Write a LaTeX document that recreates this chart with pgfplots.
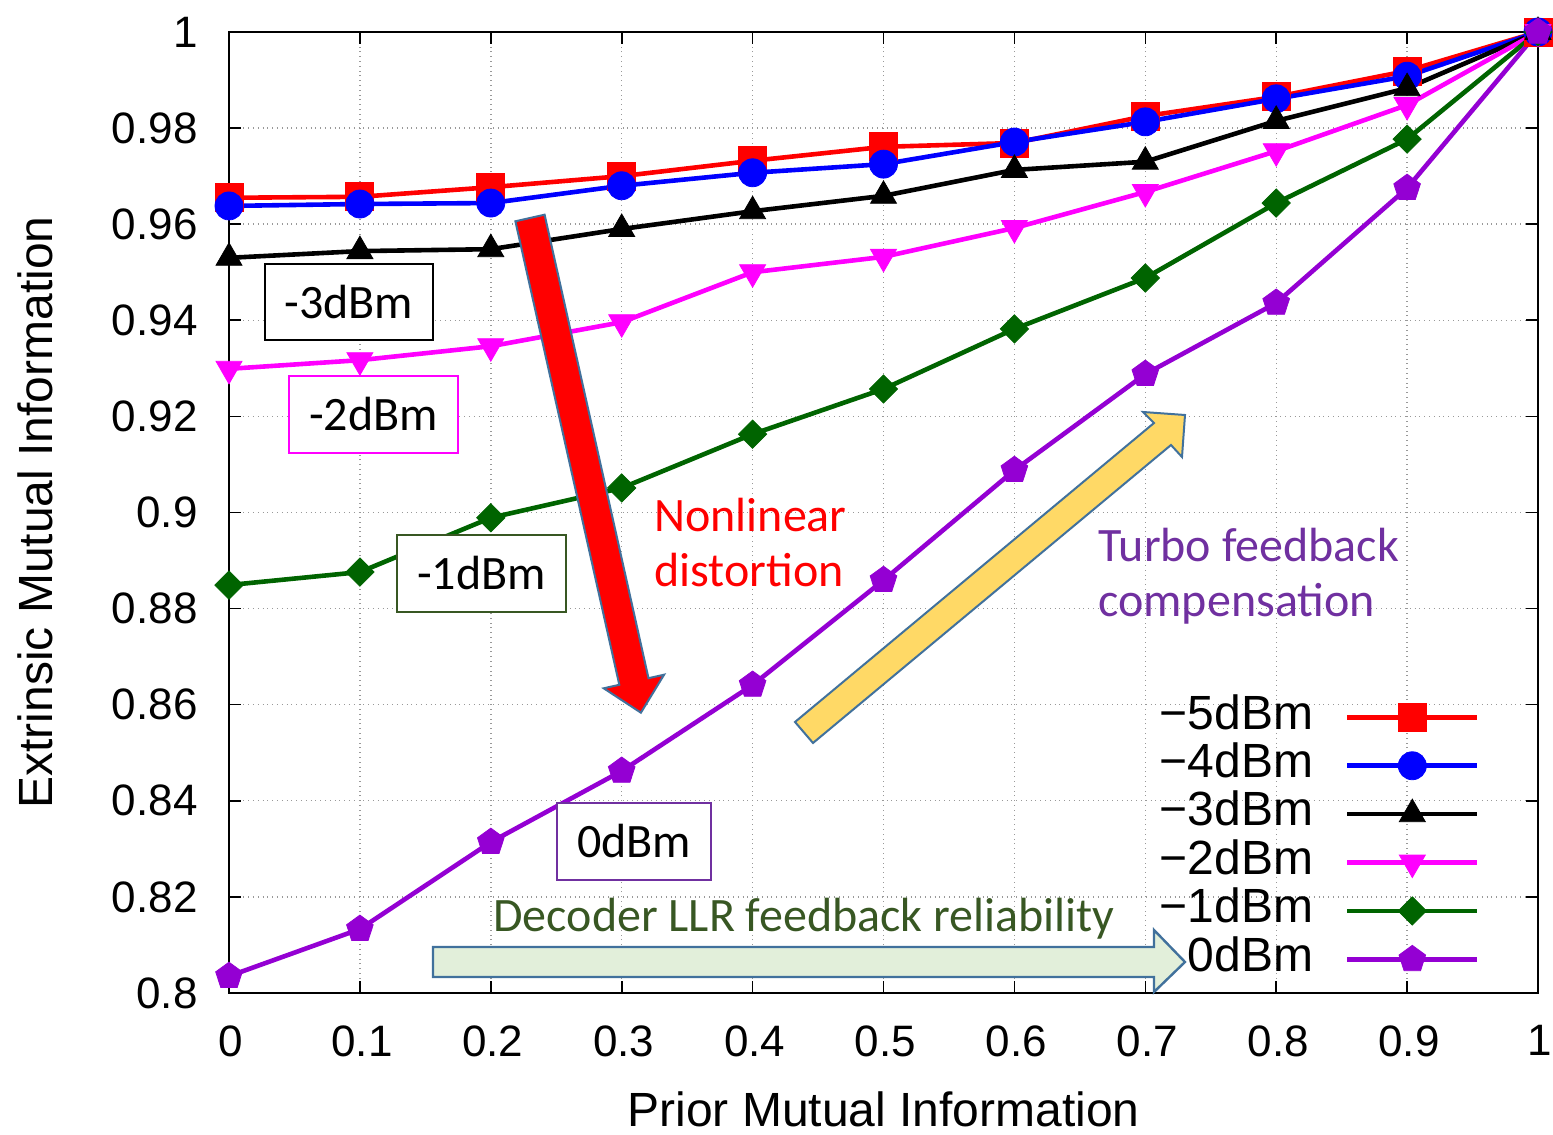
\documentclass[border=0pt]{standalone}
\usepackage{pgfplots}
\pgfplotsset{compat=1.18}
\usepackage{fontspec}
\setmainfont{Liberation Sans}
\newfontfamily\calfont{Carlito}
\usetikzlibrary{plotmarks}
\definecolor{mymagenta}{RGB}{255,0,255}
\definecolor{mygreen}{RGB}{0,100,0}
\definecolor{mypurple}{RGB}{148,0,211}
\definecolor{boxgreen}{RGB}{56,87,35}
\definecolor{boxpurple}{RGB}{112,48,160}
\definecolor{arrowedge}{RGB}{65,113,156}
\definecolor{yellowfill}{RGB}{255,217,102}
\definecolor{greenfill}{RGB}{226,239,218}
\begin{document}
\begin{tikzpicture}
\begin{axis}[
  scale only axis, width=654.5pt, height=480.5pt,
  xmin=0, xmax=1, ymin=0.8, ymax=1,
  xtick={0,0.1,0.2,0.3,0.4,0.5,0.6,0.7,0.8,0.9,1},
  xticklabels={0,0.1,0.2,0.3,0.4,0.5,0.6,0.7,0.8,0.9,1},
  ytick={0.8,0.82,0.84,0.86,0.88,0.9,0.92,0.94,0.96,0.98,1},
  yticklabels={0.8,0.82,0.84,0.86,0.88,0.9,0.92,0.94,0.96,0.98,1},
  tick align=inside, tick pos=both,
  major tick length=6pt,
  tick style={line width=0.8pt, black},
  axis line style={line width=1pt},
  grid=major, grid style={dotted, gray!80, line width=0.7pt},
  /pgf/number format/assume math mode=true,
  ticklabel style={font=\fontsize{22}{22}\selectfont},
  xticklabel style={anchor=north, inner sep=0pt, yshift=-16pt, xshift=1pt},
  yticklabel style={anchor=east, inner sep=0pt, xshift=-15.5pt},
  xlabel={Prior Mutual Information},
  ylabel={Extrinsic Mutual Information},
  xlabel style={font=\fontsize{24}{24}\selectfont, at={(rel axis cs:0.5,-0.1384)}, anchor=base, inner sep=0pt},
  ylabel style={font=\fontsize{24}{24}\selectfont, at={(rel axis cs:-0.1352,0.5)}, anchor=base, inner sep=0pt},
  legend plot pos=right,
  legend cell align=right,
  legend image code/.code={\draw[mark repeat=2,mark phase=2,#1] plot coordinates {(0pt,0pt) (32.5pt,0pt) (65pt,0pt)};},
  legend style={draw=none, fill=none, at={(rel axis cs:0.9557,0.0094)}, anchor=south east,
    font=\fontsize{24}{24}\selectfont, inner sep=0pt,
    nodes={inner sep=0pt, text height=18pt, text depth=6.2pt},
    /tikz/every odd column/.append style={column sep=16pt}},
  every axis plot/.append style={line width=2.3pt},
]
\addplot[color=red, mark=square*, mark size=7pt, mark options={solid, fill=red, line width=0.4pt}] coordinates {
 (0,0.9655) (0.1,0.9657) (0.2,0.9677) (0.3,0.9700) (0.4,0.9732) (0.5,0.9761) (0.6,0.9769) (0.7,0.9825) (0.8,0.9865) (0.9,0.9919) (1,1.0)};
\addlegendentry{−5dBm}
\addplot[color=blue, mark=*, mark size=7pt, mark options={solid, fill=blue, line width=0.4pt}] coordinates {
 (0,0.9638) (0.1,0.9642) (0.2,0.9644) (0.3,0.9680) (0.4,0.9707) (0.5,0.9725) (0.6,0.9771) (0.7,0.9813) (0.8,0.9861) (0.9,0.9908) (1,1.0)};
\addlegendentry{−4dBm}
\addplot[color=black, mark=triangle*, mark size=7.5pt, mark options={solid, fill=black, line width=0.4pt}] coordinates {
 (0,0.9530) (0.1,0.9544) (0.2,0.9548) (0.3,0.9590) (0.4,0.9627) (0.5,0.9659) (0.6,0.9713) (0.7,0.9730) (0.8,0.9815) (0.9,0.9883) (1,1.0)};
\addlegendentry{−3dBm}
\addplot[color=mymagenta, mark=triangle*, mark size=7.5pt, mark options={solid, fill=mymagenta, rotate=180, line width=0.4pt}] coordinates {
 (0,0.9299) (0.1,0.9317) (0.2,0.9346) (0.3,0.9396) (0.4,0.9500) (0.5,0.9532) (0.6,0.9592) (0.7,0.9667) (0.8,0.9752) (0.9,0.9848) (1,1.0)};
\addlegendentry{−2dBm}
\addplot[color=mygreen, mark=square*, mark size=5pt, mark options={solid, fill=mygreen, rotate=45, line width=0.4pt}] coordinates {
 (0,0.8849) (0.1,0.8876) (0.2,0.8989) (0.3,0.9051) (0.4,0.9163) (0.5,0.9257) (0.6,0.9382) (0.7,0.9488) (0.8,0.9644) (0.9,0.9777) (1,1.0)};
\addlegendentry{−1dBm}
\addplot[color=mypurple, mark=pentagon*, mark size=7pt, mark options={solid, fill=mypurple, line width=0.4pt}] coordinates {
 (0,0.8035) (0.1,0.8133) (0.2,0.8314) (0.3,0.8462) (0.4,0.8641) (0.5,0.8859) (0.6,0.9088) (0.7,0.9288) (0.8,0.9436) (0.9,0.9675) (1,1.0)};
\addlegendentry{0dBm}
\end{axis}
\begin{scope}[x=0.5pt, y=-0.5pt, shift={(current axis.north west)}, shift={(-229,-32)}]
  % red arrow
  \draw[arrowedge, line width=1pt, fill=red, line join=miter]
    (544.6,214.7) -- (648.5,678.2) -- (664.1,674.7) -- (640.9,712.7) -- (603.7,688.3) -- (619.3,684.8) -- (515.4,221.3) -- cycle;
  % yellow arrow
  \draw[arrowedge, line width=1pt, fill=yellowfill, line join=miter]
    (795,722) -- (1154,423) -- (1143,412) -- (1185,415) -- (1182,457) -- (1171,445) -- (813,743) -- cycle;
  % green arrow
  \draw[arrowedge, line width=1.2pt, fill=greenfill, line join=miter]
    (433,947) -- (1154,947) -- (1154,930) -- (1185,962) -- (1154,992) -- (1154,977) -- (433,977) -- cycle;
  % boxes
  \node[draw=black, line width=1pt, fill=white, minimum width=84pt, minimum height=38pt, inner sep=0pt, font=\calfont\fontsize{24}{24}\selectfont] at (349,302) {-3dBm};
  \node[draw=mymagenta, line width=1pt, fill=white, minimum width=84.5pt, minimum height=38.5pt, inner sep=0pt, font=\calfont\fontsize{24}{24}\selectfont] at (373.5,414.5) {-2dBm};
  \node[draw=boxgreen, line width=1pt, fill=white, minimum width=84.5pt, minimum height=38.5pt, inner sep=0pt, font=\calfont\fontsize{24}{24}\selectfont] at (481.5,573.5) {-1dBm};
  \node[draw=boxpurple, line width=1pt, fill=white, minimum width=77pt, minimum height=38.5pt, inner sep=0pt, font=\calfont\fontsize{24}{24}\selectfont] at (634,841.5) {0dBm};
  % texts
  \node[anchor=base west, inner sep=0pt, text=red, font=\calfont\fontsize{24}{24}\selectfont] at (654,532) {Nonlinear};
  \node[anchor=base west, inner sep=0pt, text=red, font=\calfont\fontsize{24}{24}\selectfont] at (654,587) {distortion};
  \node[anchor=base west, inner sep=0pt, text=boxpurple, font=\calfont\fontsize{24}{24}\selectfont] at (1098,562) {Turbo feedback};
  \node[anchor=base west, inner sep=0pt, text=boxpurple, font=\calfont\fontsize{24}{24}\selectfont] at (1098,617) {compensation};
  \node[anchor=base west, inner sep=0pt, text=boxgreen, font=\calfont\fontsize{24}{24}\selectfont] at (493,932) {Decoder LLR feedback reliability};
  \pgfresetboundingbox
  \path[use as bounding box] (0,0) rectangle (1553,1135);
\end{scope}
\end{tikzpicture}
\end{document}
